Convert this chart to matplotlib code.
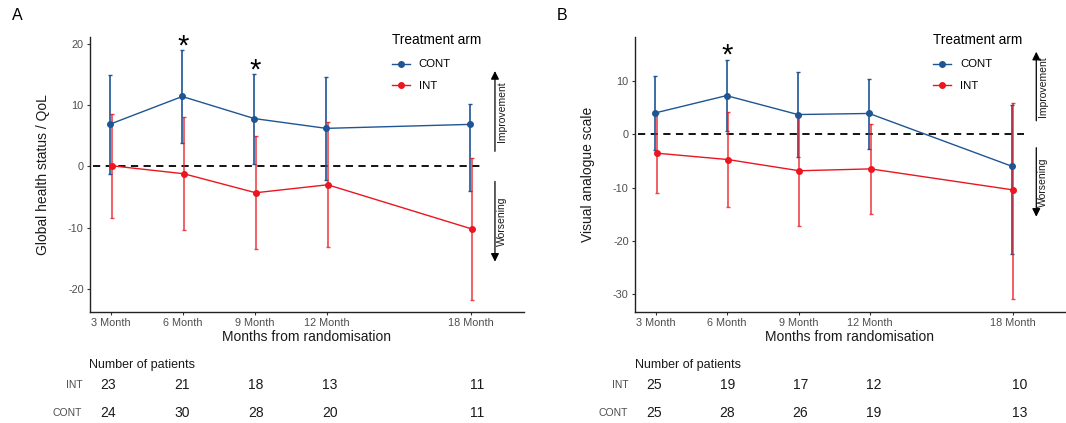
import numpy as np
import matplotlib
matplotlib.use("Agg")
import matplotlib.pyplot as plt
import matplotlib.transforms as mtransforms

plt.rcParams["font.family"] = ["Liberation Sans", "DejaVu Sans"]

months = [3, 6, 9, 12, 18]
month_labels = ["3 Month", "6 Month", "9 Month", "12 Month", "18 Month"]

# Panel A: global health status / QoL (mean, lower CI, upper CI)
qol_cont = [6.9, 11.4, 7.8, 6.2, 6.85]
qol_cont_lo = [-1.3, 3.8, 0.45, -2.3, -4.0]
qol_cont_hi = [14.95, 18.9, 15.0, 14.6, 10.2]
qol_int = [0.1, -1.2, -4.3, -3.0, -10.2]
qol_int_lo = [-8.5, -10.4, -13.4, -13.2, -21.8]
qol_int_hi = [8.6, 8.0, 4.9, 7.2, 1.4]
qol_stars = [6, 9]
qol_n_int = [23, 21, 18, 13, 11]
qol_n_cont = [24, 30, 28, 20, 11]

# Panel B: visual analogue scale
vas_cont = [4.0, 7.25, 3.7, 3.9, -6.0]
vas_cont_lo = [-3.0, 0.7, -4.2, -2.7, -22.4]
vas_cont_hi = [10.9, 13.9, 11.6, 10.4, 5.5]
vas_int = [-3.55, -4.75, -6.85, -6.5, -10.45]
vas_int_lo = [-11.1, -13.6, -17.3, -14.9, -30.9]
vas_int_hi = [4.0, 4.1, 3.7, 1.9, 5.8]
vas_stars = [6]
vas_n_int = [25, 19, 17, 12, 10]
vas_n_cont = [25, 28, 26, 19, 13]

BLUE = "#1F5593"
RED = "#EA1620"
GREY = "#4D4D4D"
W, H = 1066, 423


def fig_box(left, top, right, bottom):
    return [left / W, 1 - bottom / H, (right - left) / W, (bottom - top) / H]


def draw_panel(ax, cont, cont_lo, cont_hi, intv, int_lo, int_hi, stars, ylab, xlim, ylim, yticks):
    x = np.array(months, dtype=float)
    c = np.array(cont)
    i = np.array(intv)
    ax.errorbar(x - 0.03, c, yerr=[c - np.array(cont_lo), np.array(cont_hi) - c],
                fmt="none", ecolor=BLUE, elinewidth=1.2, capsize=1.5, capthick=1.0, zorder=2)
    ax.errorbar(x + 0.03, i, yerr=[i - np.array(int_lo), np.array(int_hi) - i],
                fmt="none", ecolor=RED, elinewidth=1.2, capsize=1.5, capthick=1.0, alpha=0.8, zorder=2)
    ax.plot(x - 0.03, c, color=BLUE, lw=1.0, zorder=3)
    ax.plot(x + 0.03, i, color=RED, lw=1.0, zorder=3)
    ax.plot(x - 0.03, c, "o", color=BLUE, ms=4, zorder=4)
    ax.plot(x + 0.03, i, "o", color=RED, ms=4, zorder=4)

    ax.hlines(0, 2.25, 18.5, colors="black", linestyles=(0, (4, 3)), lw=1.3, zorder=1)

    for m in stars:
        top = max(cont_hi[months.index(m)], int_hi[months.index(m)])
        ax.annotate("*", xy=(m, top), xytext=(0, -7), textcoords="offset points",
                    ha="center", va="bottom", fontsize=21)

    # improvement / worsening arrows
    ax.annotate("", xy=(19, 16), xytext=(19, 2),
                arrowprops=dict(arrowstyle="-|>", color="black", lw=0.9, mutation_scale=12))
    ax.annotate("", xy=(19, -16), xytext=(19, -2),
                arrowprops=dict(arrowstyle="-|>", color="black", lw=0.9, mutation_scale=12))
    ax.text(19.3, 9, "Improvement", rotation=90, ha="center", va="center", fontsize=7.5, color="#1A1A1A")
    ax.text(19.3, -9, "Worsening", rotation=90, ha="center", va="center", fontsize=7.5, color="#1A1A1A")

    ax.set_xlim(*xlim)
    ax.set_ylim(*ylim)
    ax.set_xticks(months)
    ax.set_xticklabels(month_labels)
    ax.set_yticks(yticks)
    ax.set_yticklabels([str(v) for v in yticks])
    ax.tick_params(labelsize=7.8, labelcolor=GREY, color="#333333", length=2.5, width=0.8, pad=2)
    for s in ["top", "right"]:
        ax.spines[s].set_visible(False)
    for s in ["left", "bottom"]:
        ax.spines[s].set_color("#222222")
        ax.spines[s].set_linewidth(1.0)

    ax.set_xlabel("Months from randomisation", fontsize=10, color="#1A1A1A")
    ax.xaxis.set_label_coords(0.498, -0.068)
    ax.set_ylabel(ylab, fontsize=10, color="#1A1A1A")
    ax.yaxis.set_label_coords(-0.093, 0.5)


def draw_table(ax, n_int, n_cont, label_x, title_x):
    ax.axis("off")
    tr = mtransforms.blended_transform_factory(ax.transData, ax.transAxes)
    ax.text(title_x, 0.79, "Number of patients", transform=tr, ha="left", va="center", fontsize=9, color="#1A1A1A")
    ax.text(label_x, 0.52, "INT", transform=tr, ha="right", va="center", fontsize=7.5, color=GREY)
    ax.text(label_x, 0.135, "CONT", transform=tr, ha="right", va="center", fontsize=7.5, color=GREY)
    for m, a, b in zip(months, n_int, n_cont):
        ax.text(m, 0.52, str(a), transform=tr, ha="center", va="center", fontsize=10, color="#1A1A1A")
        ax.text(m, 0.135, str(b), transform=tr, ha="center", va="center", fontsize=10, color="#1A1A1A")


fig = plt.figure(figsize=(10.66, 4.23), dpi=100)

axA = fig.add_axes(fig_box(90, 37, 524, 311.7))
draw_panel(axA, qol_cont, qol_cont_lo, qol_cont_hi, qol_int, qol_int_lo, qol_int_hi, qol_stars,
           "Global health status / QoL", (2.125, 20.21), (-23.7, 21.1), [-20, -10, 0, 10, 20])
axB = fig.add_axes(fig_box(635, 37, 1066, 311.7))
draw_panel(axB, vas_cont, vas_cont_lo, vas_cont_hi, vas_int, vas_int_lo, vas_int_hi, vas_stars,
           "Visual analogue scale", (2.12, 20.25), (-33.3, 18.25), [-30, -20, -10, 0, 10])

for ax, px in [(axA, 391.5), (axB, 933)]:
    leg = ax.legend(handles=[plt.Line2D([], [], color=BLUE, marker="o", ms=4, lw=1.0),
                             plt.Line2D([], [], color=RED, marker="o", ms=4, lw=1.0)],
                    labels=["CONT", "INT"], title="Treatment arm", frameon=False,
                    loc="upper left", bbox_to_anchor=(px / W, 1 - 33 / H),
                    bbox_transform=fig.transFigure, borderpad=0, borderaxespad=0,
                    fontsize=8.2, title_fontsize=9.8, handlelength=1.6, handletextpad=0.8,
                    labelspacing=1.0, alignment="left")
    leg._legend_box.sep = 9

tabA = fig.add_axes(fig_box(86.8, 350, 86.8 + 444.6, 423))
tabA.set_xlim(2.125, 20.2)
draw_table(tabA, qol_n_int, qol_n_cont, 1.942, 2.227)
tabB = fig.add_axes(fig_box(632.5, 350, 1066, 423))
tabB.set_xlim(2.12, 19.89)
draw_table(tabB, vas_n_int, vas_n_cont, 1.948, 2.235)

fig.text(17 / W, 1 - 16 / H, "A", ha="center", va="center", fontsize=11.5)
fig.text(562 / W, 1 - 16 / H, "B", ha="center", va="center", fontsize=11.5)

fig.savefig("out.png", dpi=100)
